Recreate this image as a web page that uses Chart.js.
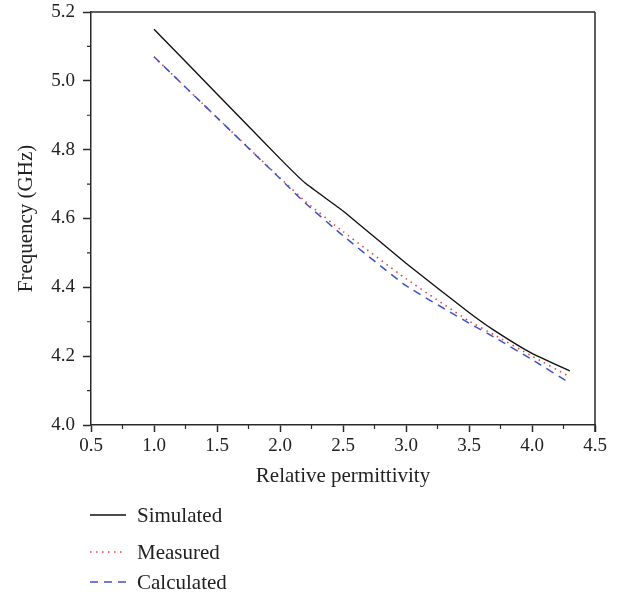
<!DOCTYPE html>
<html>
<head>
<meta charset="utf-8">
<script src="https://cdn.jsdelivr.net/npm/chart.js@4"></script>
<style>
html,body{margin:0;padding:0;background:#fff;}
#wrap{width:630px;height:597px;position:relative;}
</style>
</head>
<body>
<div id="wrap"><canvas id="c" width="630" height="597"></canvas></div>
<script>
// ---- data ----
const permittivity = [1.0, 1.5, 2.0, 2.2, 2.5, 3.0, 3.5, 3.7, 4.0, 4.3];
const simulated    = [5.150, 4.962, 4.774, 4.703, 4.622, 4.470, 4.327, 4.275, 4.208, 4.157];
const measured     = [5.070, 4.893, 4.718, 4.650, 4.562, 4.425, 4.302, 4.262, 4.200, 4.140];
const calculated   = [5.070, 4.893, 4.716, 4.645, 4.550, 4.405, 4.296, 4.255, 4.190, 4.122];
const seriesNames  = ['Simulated', 'Measured', 'Calculated'];
const xTickValues  = [0.5, 1.0, 1.5, 2.0, 2.5, 3.0, 3.5, 4.0, 4.5];
const yTickValues  = [4.0, 4.2, 4.4, 4.6, 4.8, 5.0, 5.2];
const xTitle = 'Relative permittivity';
const yTitle = 'Frequency (GHz)';

const FONT = "'Liberation Serif', 'Times New Roman', serif";
const AXIS = '#2a2a2a';

function pts(ys){ return permittivity.map((x,i)=>({x:x, y:ys[i]})); }

const styles = [
  {borderColor:'#111111', borderWidth:1.4, borderDash:[]},
  {borderColor:'#e2453c', borderWidth:1.6, borderDash:[1.5,4.5]},
  {borderColor:'#3f51c6', borderWidth:1.5, borderDash:[8,6]}
];
const values = [simulated, measured, calculated];

const datasets = seriesNames.map((n,i)=>({
  label:n, data:pts(values[i]), borderColor:styles[i].borderColor,
  borderWidth:styles[i].borderWidth, borderDash:styles[i].borderDash,
  pointRadius:0, fill:false, tension:0.15, order: i===1 ? 2 : (i===2 ? 1 : 0)
}));

const extras = {
  id:'extras',
  afterDraw(chart){
    const ctx = chart.ctx, a = chart.chartArea;
    const xs = chart.scales.x, ys = chart.scales.y;
    ctx.save();
    ctx.strokeStyle = AXIS; ctx.lineWidth = 1.5;
    // frame top & right
    ctx.beginPath();
    ctx.moveTo(a.left, a.top); ctx.lineTo(a.right, a.top);
    ctx.moveTo(a.right, a.top); ctx.lineTo(a.right, a.bottom + 7);
    ctx.stroke();
    // minor ticks
    ctx.lineWidth = 1.2;
    ctx.beginPath();
    for (let v = 0.75; v < 4.5; v += 0.5){
      const px = xs.getPixelForValue(v);
      ctx.moveTo(px, a.bottom); ctx.lineTo(px, a.bottom + 4);
    }
    for (let v = 4.1; v < 5.2; v += 0.2){
      const py = ys.getPixelForValue(v);
      ctx.moveTo(a.left, py); ctx.lineTo(a.left - 4, py);
    }
    ctx.stroke();
    // legend (below the chart, stacked)
    const rows = [515, 552, 582];
    chart.data.datasets.forEach((d,i)=>{
      const y = rows[i];
      ctx.strokeStyle = d.borderColor; ctx.lineWidth = d.borderWidth;
      ctx.setLineDash(d.borderDash || []);
      ctx.beginPath(); ctx.moveTo(90, y); ctx.lineTo(126, y); ctx.stroke();
      ctx.setLineDash([]);
      ctx.fillStyle = '#222'; ctx.font = '21px ' + FONT;
      ctx.textBaseline = 'middle'; ctx.textAlign = 'left';
      ctx.fillText(d.label, 137, y + 1);
    });
    ctx.restore();
  }
};

new Chart(document.getElementById('c'), {
  type:'line',
  data:{datasets},
  options:{
    responsive:false, animation:false,
    layout:{padding:{left:0, top:12, right:35, bottom:108}},
    plugins:{legend:{display:false}, tooltip:{enabled:false}},
    scales:{
      x:{
        type:'linear', min:0.5, max:4.5,
        afterBuildTicks(s){ s.ticks = xTickValues.map(v=>({value:v})); },
        afterFit(s){ s.height = 64; s.paddingLeft = 0; s.paddingRight = 0; },
        grid:{drawOnChartArea:false, drawTicks:true, tickLength:7, tickWidth:1.5, tickColor:AXIS},
        border:{display:true, color:AXIS, width:1.5},
        ticks:{color:'#222', font:{family:FONT, size:19}, padding:3, maxRotation:0,
               callback:v=>v.toFixed(1)},
        title:{display:true, text:xTitle, color:'#222', font:{family:FONT, size:21}, padding:{top:2,bottom:0}}
      },
      y:{
        type:'linear', min:4.0, max:5.2,
        afterBuildTicks(s){ s.ticks = yTickValues.map(v=>({value:v})); },
        afterFit(s){ s.width = 91; s.paddingTop = 0; s.paddingBottom = 0; },
        grid:{drawOnChartArea:false, drawTicks:true, tickLength:8, tickWidth:1.5, tickColor:AXIS},
        border:{display:true, color:AXIS, width:1.5},
        ticks:{color:'#222', font:{family:FONT, size:19}, padding:8,
               callback:v=>v.toFixed(1)},
        title:{display:true, text:yTitle, color:'#222', font:{family:FONT, size:21}, padding:{top:14,bottom:0}}
      }
    }
  },
  plugins:[extras]
});
</script>
</body>
</html>
